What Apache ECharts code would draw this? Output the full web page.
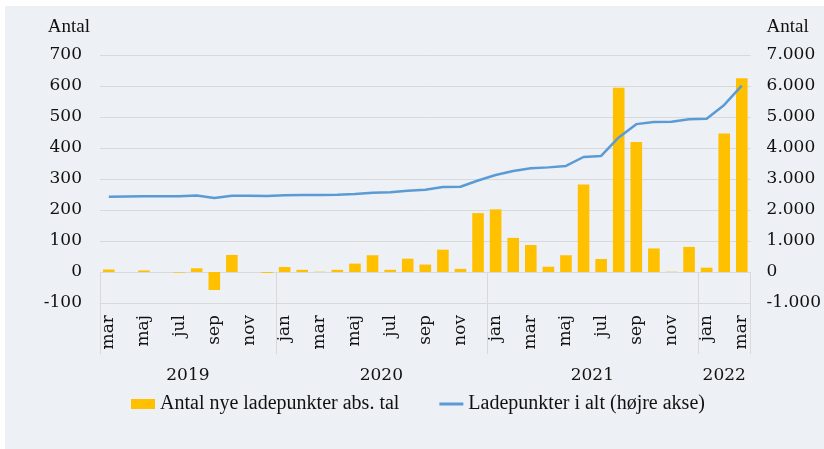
<!DOCTYPE html>
<html>
<head>
<meta charset="utf-8">
<script src="https://cdn.jsdelivr.net/npm/echarts@6/dist/echarts.min.js"></script>
<style>
  html, body { margin: 0; padding: 0; background: #fff; }
  #bg { position: absolute; left: 5px; top: 6px; width: 819px; height: 443px; background: #edf0f4; }
  #chart { position: absolute; left: 0; top: 0; width: 824px; height: 449px; }
</style>
</head>
<body>
<div id="bg"></div>
<div id="chart"></div>
<script>
  // måneder mar 2019 - mar 2022
  const months = [
    'mar', 'apr', 'maj', 'jun', 'jul', 'aug', 'sep', 'okt', 'nov', 'dec',
    'jan', 'feb', 'mar', 'apr', 'maj', 'jun', 'jul', 'aug', 'sep', 'okt', 'nov', 'dec',
    'jan', 'feb', 'mar', 'apr', 'maj', 'jun', 'jul', 'aug', 'sep', 'okt', 'nov', 'dec',
    'jan', 'feb', 'mar'
  ]
  const years = ['2019', '2020', '2021', '2022']
  const monthsPerYear = [10, 12, 12, 3]

  const nyeLadepunkter = [
    8, 0, 5, 0, -2, 12, -58, 55, 0, -3,
    16, 7, 1, 7, 27, 54, 7, 43, 24, 72, 10, 190,
    202, 110, 87, 17, 54, 282, 42, 594, 419, 76, 1, 81,
    14, 447, 625
  ]
  const ladepunkterIAlt = [
    2430, 2435, 2440, 2440, 2445, 2465, 2390, 2460, 2460, 2450,
    2475, 2480, 2485, 2490, 2520, 2560, 2575, 2620, 2650, 2740, 2750, 2950,
    3130, 3260, 3345, 3375, 3420, 3710, 3745, 4340, 4770, 4840, 4850, 4925,
    4945, 5390, 6010
  ]

  const leftTicks = { min: -100, max: 700, interval: 100 }
  const rightTicks = { min: -1000, max: 7000, interval: 1000 }

  // grænser og midtpunkter for årstal under aksen
  const yearBounds = [0]
  const yearCenters = []
  monthsPerYear.forEach(function (n) {
    const start = yearBounds[yearBounds.length - 1]
    yearCenters.push(start + n / 2)
    yearBounds.push(start + n)
  })

  const gridColor = '#d9d9d9'
  const numFont = '"DejaVu Serif", serif'
  const textFont = '"Liberation Serif", serif'

  const chart = echarts.init(document.getElementById('chart'))
  chart.setOption({
    backgroundColor: 'transparent',
    animation: false,
    grid: { left: 100, right: 72, top: 55, bottom: 146 },
    legend: {
      left: 126,
      top: 389,
      itemGap: 40,
      itemWidth: 24,
      itemHeight: 10,
      textStyle: { fontFamily: textFont, fontSize: 20, color: '#111' },
      data: [
        { name: 'Antal nye ladepunkter abs. tal', icon: 'rect' },
        { name: 'Ladepunkter i alt (højre akse)', icon: 'path://M0,0 L24,0 L24,3 L0,3 Z' }
      ]
    },
    xAxis: [{
      type: 'category',
      data: months,
      axisLine: { onZero: false, lineStyle: { color: gridColor } },
      axisTick: { show: false },
      axisLabel: {
        interval: 1,
        rotate: 90,
        margin: 12,
        fontFamily: numFont,
        fontSize: 17,
        color: '#111'
      }
    }, {
      type: 'value',
      min: 0,
      max: months.length,
      position: 'bottom',
      axisLine: { show: false },
      splitLine: { show: false },
      axisTick: {
        show: true,
        customValues: yearBounds,
        length: 82,
        lineStyle: { color: gridColor }
      },
      axisLabel: {
        customValues: yearCenters,
        margin: 64,
        fontFamily: numFont,
        fontSize: 17,
        color: '#111',
        formatter: function (value) {
          return years[yearCenters.indexOf(value)]
        }
      }
    }],
    yAxis: [{
      type: 'value',
      name: 'Antal',
      nameGap: 18,
      nameTextStyle: { fontFamily: textFont, fontSize: 19, color: '#111', align: 'right', padding: [0, 10, 0, 0] },
      min: leftTicks.min,
      max: leftTicks.max,
      interval: leftTicks.interval,
      axisLine: { show: false },
      axisTick: { show: false },
      axisLabel: { margin: 18, fontFamily: numFont, fontSize: 17, color: '#111' },
      splitLine: { lineStyle: { color: gridColor, width: 1 } }
    }, {
      type: 'value',
      name: 'Antal',
      nameGap: 18,
      nameTextStyle: { fontFamily: textFont, fontSize: 19, color: '#111', align: 'left', padding: [0, 0, 0, 16] },
      min: rightTicks.min,
      max: rightTicks.max,
      interval: rightTicks.interval,
      axisLine: { show: false },
      axisTick: { show: false },
      splitLine: { show: false },
      axisLabel: {
        margin: 16,
        fontFamily: numFont,
        fontSize: 17,
        color: '#111',
        formatter: function (v) {
          const s = Math.abs(v).toString().replace(/\B(?=(\d{3})+(?!\d))/g, '.')
          return (v < 0 ? '-' : '') + s
        }
      }
    }],
    series: [{
      name: 'Antal nye ladepunkter abs. tal',
      type: 'bar',
      data: nyeLadepunkter,
      barCategoryGap: '34%',
      itemStyle: { color: '#ffc000' }
    }, {
      name: 'Ladepunkter i alt (højre akse)',
      type: 'line',
      yAxisIndex: 1,
      data: ladepunkterIAlt,
      symbol: 'none',
      lineStyle: { color: '#5b9bd5', width: 2.5 },
      itemStyle: { color: '#5b9bd5' }
    }]
  })
</script>
</body>
</html>
